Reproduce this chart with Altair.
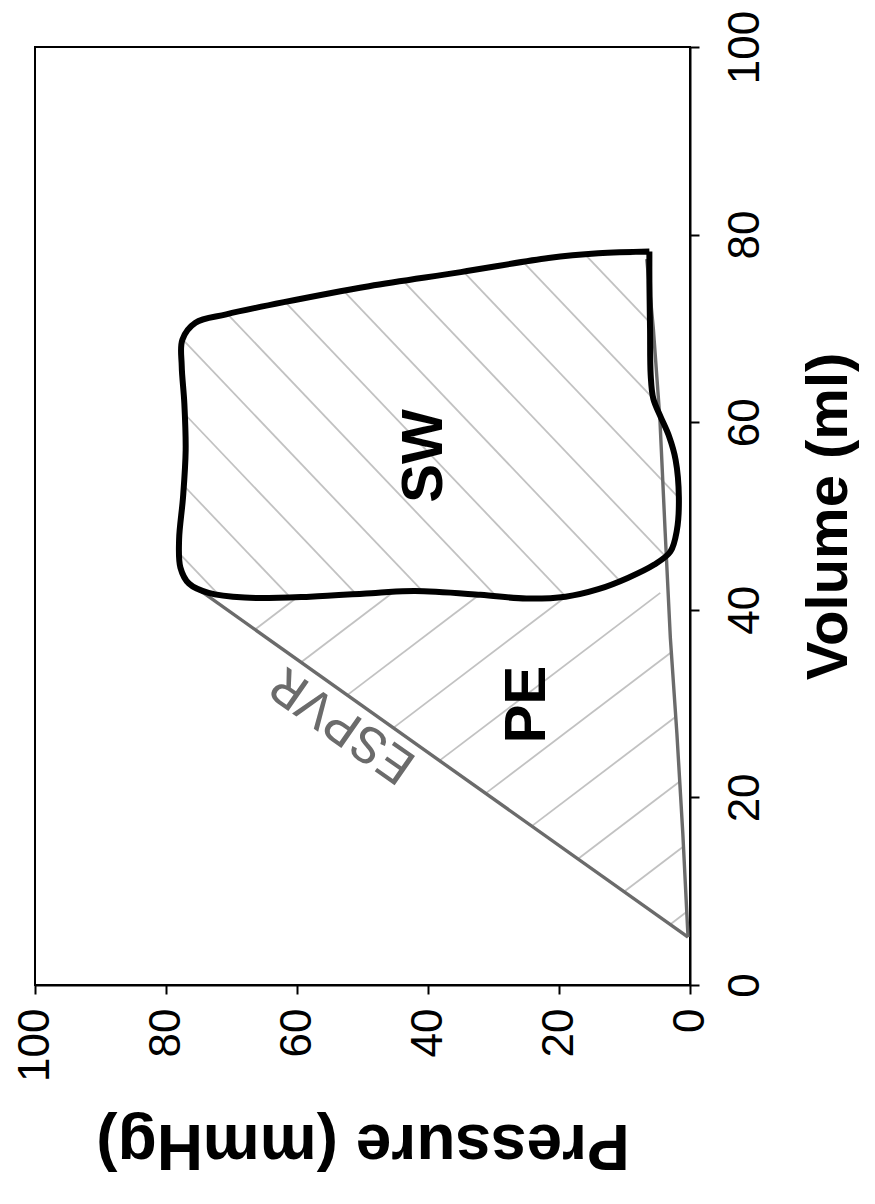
import numpy as np
import pandas as pd
import altair as alt

# ---- data (pressure mmHg, volume ml) ----
loop_p = [6.2, 14, 21.6, 35, 49, 62, 70.8, 75.5, 77.5, 77.6, 77.2, 77.0, 77.4, 78.0, 77.8,
          76.5, 73.5, 68, 58, 48, 42, 32, 25, 19, 14, 9.5, 5.5, 3.0, 2.0, 1.7, 2.2, 3.2,
          4.5, 5.6, 6.0, 6.1, 6.2, 6.2]
loop_v = [78.2, 78.0, 77.5, 76.0, 74.5, 72.8, 71.5, 70.6, 68.8, 66, 62, 57, 52, 47.5, 44.5,
          42.8, 41.8, 41.3, 41.4, 41.8, 42.0, 41.6, 41.2, 41.4, 42.2, 43.4, 44.8, 46.2, 48.5,
          52, 56, 58.5, 60.6, 62.5, 65, 70, 75, 78.2]
espvr_p = [0.3, 75.3]
espvr_v = [5.1, 42.3]
edpvr_p = [0.3, 1.1, 2.0, 3.0, 3.8, 4.6, 5.6, 6.6]
edpvr_v = [5.1, 16.2, 26.8, 37.0, 48.4, 60.4, 70.0, 77.4]
label_text = ["SW", "PE", "ESPVR"]
label_p = [40.5, 24.7, 53.0]
label_v = [56.4, 29.9, 27.7]
tick_vals = [0, 20, 40, 60, 80, 100]

W, H = 655, 938

def to_px(p, v):
    return np.column_stack([(100 - np.asarray(p)) / 100 * W, (100 - np.asarray(v)) / 100 * H])

def to_data(xy):
    return 100 - xy[0] / W * 100, 100 - xy[1] / H * 100

def hatch(poly_p, poly_v, direction, spacing, through_pv):
    pts = to_px(poly_p, poly_v)
    d = np.array(direction, float)
    d /= np.linalg.norm(d)
    n = np.array([-d[1], d[0]])
    c0 = to_px([through_pv[0]], [through_pv[1]])[0] @ n
    proj = pts @ n
    k0 = int(np.ceil((proj.min() - c0) / spacing))
    k1 = int(np.floor((proj.max() - c0) / spacing))
    rows = []
    N = len(pts)
    for k in range(k0, k1 + 1):
        c = c0 + k * spacing
        hits = []
        for i in range(N):
            a, b = pts[i], pts[(i + 1) % N]
            fa, fb = a @ n - c, b @ n - c
            if (fa < 0) != (fb < 0):
                t = fa / (fa - fb)
                hits.append(a + t * (b - a))
        hits.sort(key=lambda q: q @ d)
        for j in range(0, len(hits) - 1, 2):
            p1, v1 = to_data(hits[j])
            p2, v2 = to_data(hits[j + 1])
            rows.append({"p": p1, "v": v1, "p2": p2, "v2": v2})
    return pd.DataFrame(rows)

sw_hatch = hatch(loop_p, loop_v, (1, 1.05), 50, (70.7, 71.6))
pe_p = espvr_p + loop_p[16:27] + edpvr_p[1:4][::-1]
pe_v = espvr_v + loop_v[16:27] + edpvr_v[1:4][::-1]
pe_hatch = hatch(pe_p, pe_v, (1, -0.76), 54, (30.5, 20.8))

loop_df = pd.DataFrame({"p": loop_p, "v": loop_v, "i": range(len(loop_p))})
espvr_df = pd.DataFrame({"p": espvr_p, "v": espvr_v, "i": range(len(espvr_p))})
edpvr_df = pd.DataFrame({"p": edpvr_p, "v": edpvr_v, "i": range(len(edpvr_p))})
lab_df = pd.DataFrame({"p": label_p, "v": label_v, "t": label_text})

SANS = "Liberation Sans"

xs = alt.Scale(domain=[0, 100], reverse=True, nice=False, zero=False)
ys = alt.Scale(domain=[0, 100], nice=False, zero=False)

x_axis = alt.Axis(orient="bottom", values=tick_vals, title="Pressure (mmHg)", grid=False,
                  labelAngle=270, labelAlign="right", labelBaseline="middle",
                  labelFontSize=44, labelFont=SANS, labelColor="black", labelPadding=14,
                  labelOverlap=False, labelFlush=False,
                  tickSize=9, tickWidth=2, tickColor="black", domainColor="black", domainWidth=2,
                  titleAngle=180, titleBaseline="bottom", titleFont=SANS, titleFontSize=64,
                  titleFontWeight="bold", titleColor="black", titlePadding=30)
y_axis = alt.Axis(orient="right", values=tick_vals, title="Volume (ml)", grid=False,
                  labelAngle=270, labelAlign="center", labelBaseline="top",
                  labelFontSize=44, labelFont=SANS, labelColor="black", labelPadding=24,
                  labelOverlap=False, labelFlush=False,
                  tickSize=9, tickWidth=2, tickColor="black", domainColor="black", domainWidth=2,
                  titleAngle=270, titleBaseline="top", titleFont=SANS, titleFontSize=58,
                  titleFontWeight="bold", titleColor="black", titlePadding=33)

base_x = alt.X("p:Q", scale=xs, axis=x_axis)
base_y = alt.Y("v:Q", scale=ys, axis=y_axis)

sw_layer = alt.Chart(sw_hatch).mark_rule(color="#c2c2c2", strokeWidth=1.8).encode(
    x=base_x, y=base_y, x2="p2:Q", y2="v2:Q")
pe_layer = alt.Chart(pe_hatch).mark_rule(color="#c2c2c2", strokeWidth=1.8).encode(
    x=alt.X("p:Q", scale=xs), y=alt.Y("v:Q", scale=ys), x2="p2:Q", y2="v2:Q")
esp_layer = alt.Chart(espvr_df).mark_line(color="#6b6b6b", strokeWidth=3.4).encode(
    x=alt.X("p:Q", scale=xs), y=alt.Y("v:Q", scale=ys), order="i:Q")
edp_layer = alt.Chart(edpvr_df).mark_line(color="#6b6b6b", strokeWidth=3.4).encode(
    x=alt.X("p:Q", scale=xs), y=alt.Y("v:Q", scale=ys), order="i:Q")
loop_layer = alt.Chart(loop_df).mark_line(color="black", strokeWidth=6,
                                          interpolate="catmull-rom").encode(
    x=alt.X("p:Q", scale=xs), y=alt.Y("v:Q", scale=ys), order="i:Q")

bold_lab = alt.Chart(lab_df).transform_filter(alt.datum.t != "ESPVR").mark_text(
    font=SANS, fontWeight="bold", fontSize=58, angle=270, align="center",
    baseline="middle", color="black").encode(
    x=alt.X("p:Q", scale=xs), y=alt.Y("v:Q", scale=ys), text="t:N")
esp_lab = alt.Chart(lab_df).transform_filter(alt.datum.t == "ESPVR").mark_text(
    font="Courier New, Liberation Mono, monospace", fontSize=54, angle=215, align="center",
    baseline="middle", color="#6b6b6b").encode(
    x=alt.X("p:Q", scale=xs), y=alt.Y("v:Q", scale=ys), text="t:N")

chart = alt.layer(sw_layer, pe_layer, esp_layer, edp_layer, loop_layer, bold_lab, esp_lab).properties(
    width=W, height=H,
    autosize=alt.AutoSizeParams(type="none"),
    padding={"left": 27, "top": 39, "right": 177, "bottom": 210},
).configure(background="white").configure_view(stroke="black", strokeWidth=2)

chart.save("out.html", embed_options={"renderer": "svg", "actions": False})
